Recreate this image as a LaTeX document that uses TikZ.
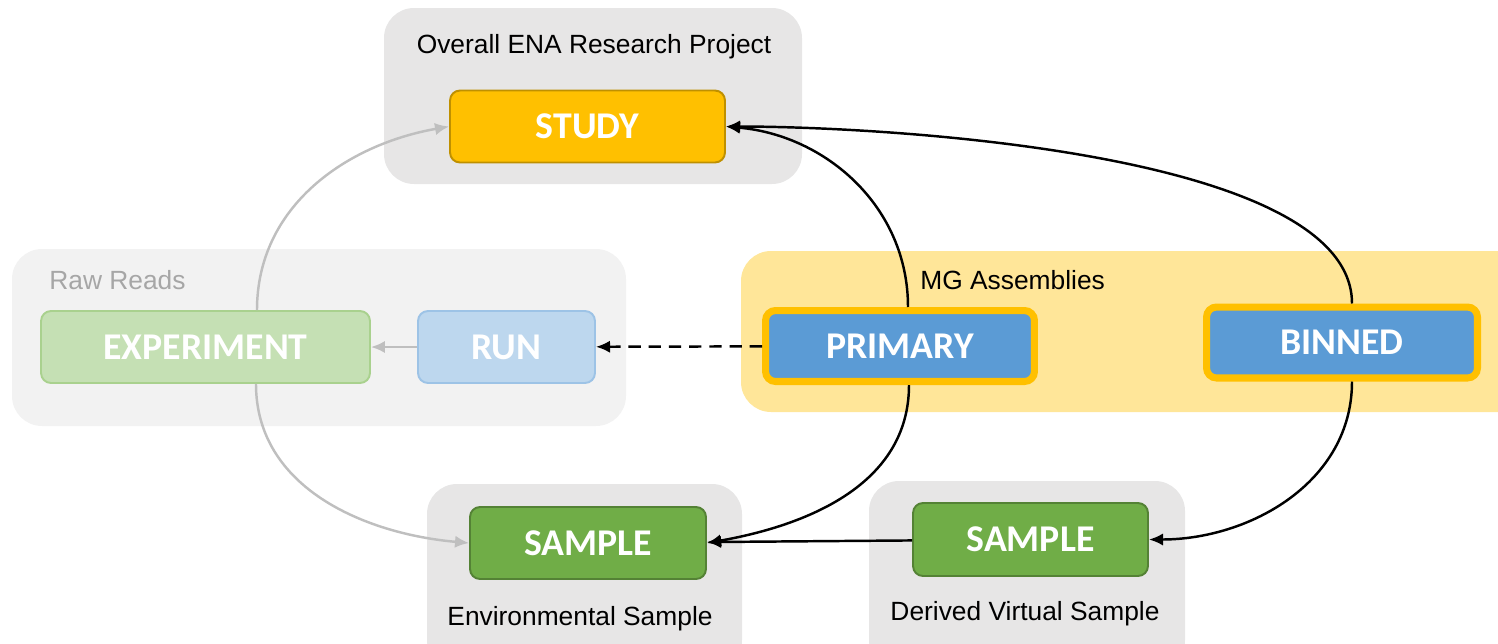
\documentclass[tikz,border=0pt]{standalone}
\usepackage{fontspec}
\setmainfont{Liberation Sans}
\newfontfamily\boxfont{Carlito}
\usetikzlibrary{arrows.meta}
\definecolor{panelgray}{HTML}{E7E6E6}
\definecolor{rawpanel}{HTML}{F2F2F2}
\definecolor{mgpanel}{HTML}{FFE699}
\definecolor{studyfill}{HTML}{FFC000}
\definecolor{studyline}{HTML}{BF9000}
\definecolor{expfill}{HTML}{C5E0B4}
\definecolor{expline}{HTML}{A9D18E}
\definecolor{runfill}{HTML}{BDD7EE}
\definecolor{runline}{HTML}{9DC3E6}
\definecolor{asmfill}{HTML}{5B9BD5}
\definecolor{samplefill}{HTML}{70AD47}
\definecolor{sampleline}{HTML}{548235}
\definecolor{fadegray}{HTML}{BFBFBF}
\definecolor{fadetext}{HTML}{A6A6A6}
\begin{document}
\begin{tikzpicture}[x=0.02cm,y=-0.02cm,
    panel/.style={rounded corners=0.6cm},
    paneltext/.style={inner sep=0pt,font=\fontsize{15}{18}\selectfont},
    entity/.style={rounded corners=0.2cm,line width=1.1pt,minimum height=1.44cm,inner sep=0pt,
      text=white,font=\boxfont\bfseries\fontsize{21.5}{25}\selectfont},
    studybox/.style={entity,fill=studyfill,draw=studyline},
    expbox/.style={entity,fill=expfill,draw=expline},
    runbox/.style={entity,fill=runfill,draw=runline},
    samplebox/.style={entity,fill=samplefill,draw=sampleline},
    assembly/.style={entity,fill=asmfill,draw=studyfill,line width=4pt,minimum height=1.42cm},
    link/.style={line width=1.4pt,-{Latex[length=8pt,width=7pt]}},
    faded/.style={link,draw=fadegray,-{Latex[length=8pt,width=7pt,fill=fadegray]}}]
  \useasboundingbox (0,0) rectangle (1498,643);
  % groups
  \fill[panel,panelgray] (384,8) rectangle (802,184);
  \fill[panel,rawpanel] (12,249) rectangle (626,426);
  \fill[panel,mgpanel] (741,251) rectangle (1530,412);
  \fill[panel,panelgray] (427,484) rectangle (742,670);
  \fill[panel,panelgray] (869,481) rectangle (1185,670);
  \node[paneltext] (studylabel) at (594,47) {Overall ENA Research Project};
  \node[paneltext,anchor=west,text=fadetext] (rawlabel) at (49,280) {Raw Reads};
  \node[paneltext,anchor=west] (mglabel) at (920,280) {MG Assemblies};
  \node[paneltext] (envlabel) at (580,619) {Environmental Sample};
  \node[paneltext] (virtlabel) at (1025,614) {Derived Virtual Sample};
  % objects
  \node[studybox,minimum width=5.5cm] (study) at (587.5,126.5) {STUDY};
  \node[expbox,minimum width=6.58cm] (exp) at (205.5,347) {EXPERIMENT};
  \node[runbox,minimum width=3.54cm] (run) at (506.5,347) {RUN};
  \node[assembly,minimum width=5.38cm] (primary) at (900,346) {PRIMARY};
  \node[assembly,minimum width=5.42cm] (binned) at (1342,342.5) {BINNED};
  \node[samplebox,minimum width=4.72cm] (envsample) at (588,543) {SAMPLE};
  \node[samplebox,minimum width=4.7cm,minimum height=1.46cm] (virtsample) at (1030.5,539.5) {SAMPLE};
  % links
  \draw[faded] (run) -- (exp);
  \draw[faded] ([xshift=1.03cm]exp.north) to[out=90,in=190] (study.west);
  \draw[faded] ([xshift=1.01cm]exp.south) to[out=-90,in=175] (envsample.west);
  \draw[link,dash pattern=on 7pt off 4.5pt] (primary) -- (run);
  \draw[link] ([xshift=0.16cm]primary.north) to[out=90,in=-5] (study.east);
  \draw[link] ([xshift=0.2cm]binned.north) to[out=90,in=0,looseness=0.6] (study.east);
  \draw[link] ([xshift=0.18cm]primary.south) to[out=-90,in=10] (envsample.east);
  \draw[link] (virtsample) -- (envsample);
  \draw[link] ([xshift=0.2cm]binned.south) to[out=-90,in=0] (virtsample.east);
\end{tikzpicture}
\end{document}
